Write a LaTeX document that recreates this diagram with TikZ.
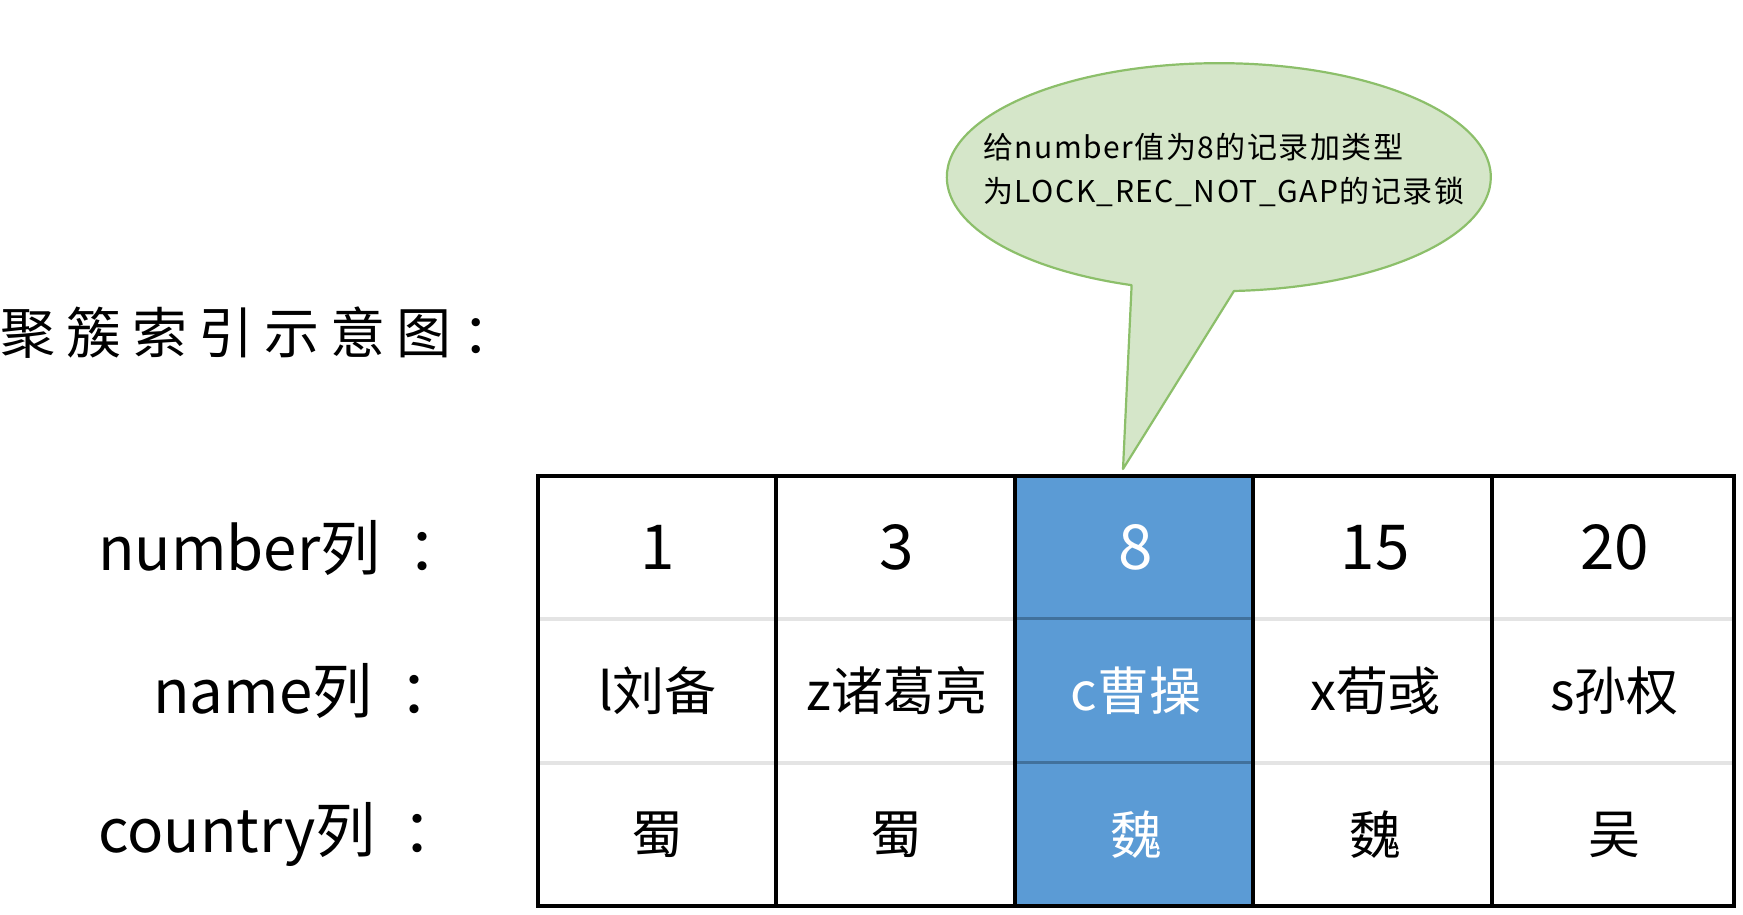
\documentclass[tikz,border=0pt]{standalone}
\usepackage{fontspec}
\setmainfont{Noto Sans CJK SC}
\newfontfamily\titlefont[LetterSpace=20]{Noto Sans CJK SC}
\newfontfamily\notefont[LetterSpace=5]{Noto Sans CJK SC}
\definecolor{cellblue}{HTML}{5B9BD5}
\definecolor{bluesep}{HTML}{41719C}
\definecolor{graysep}{HTML}{E4E4E4}
\definecolor{calloutfill}{HTML}{D5E6C9}
\definecolor{calloutline}{HTML}{8CBF6A}
\begin{document}
\begin{tikzpicture}[x=1pt,y=1pt,
  lbl/.style={inner sep=0, anchor=west, font=\fontsize{60}{64}\selectfont},
  num/.style={inner sep=0, font=\fontsize{62}{66}\selectfont},
  cell/.style={inner sep=0, font=\fontsize{52}{60}\selectfont},
  hl/.style={text=white},
  rowsep/.style={draw=graysep, line width=4pt},
  bluerowsep/.style={draw=bluesep, line width=3pt},
  coldiv/.style={draw=black, line width=3.5pt},
  frame/.style={draw=black, line width=4pt},
  bubble/.style={draw=calloutline, fill=calloutfill, line width=2.2pt, line join=round}]
\useasboundingbox (0,0) rectangle (1743,915);

% title
\node[inner sep=0, anchor=west, font=\titlefont\fontsize{55}{60}\selectfont] (title) at (0,582) {聚簇索引示意图：};

% row labels
\node[lbl] (lnum) at (98,367) {number列\hspace{27pt}：};
\node[lbl] (lname) at (153,224) {name列\hspace{27pt}：};
\node[lbl] (lcountry) at (98,81) {country列\hspace{27pt}：};

% table background
\fill[cellblue] (1015,9) rectangle (1253,439);
\draw[rowsep] (538,296) -- (1015,296) (1253,296) -- (1734,296);
\draw[rowsep] (538,152) -- (1015,152) (1253,152) -- (1734,152);
\draw[bluerowsep] (1015,296) -- (1253,296) (1015,152) -- (1253,152);
\foreach \x in {776,1015,1253,1492} \draw[coldiv] (\x,9) -- (\x,439);
\draw[frame] (538,9) rectangle (1734,439);

% cells
\node[num] (n1) at (657.6,367.5) {1};
\node[num] (n2) at (896.8,367.5) {3};
\node[num,hl] (n3) at (1136,367.5) {8};
\node[num] (n4) at (1375.2,367.5) {15};
\node[num] (n5) at (1614.4,367.5) {20};

\node[cell] (m1) at (657.6,224) {l刘备};
\node[cell] (m2) at (896.8,224) {z诸葛亮};
\node[cell,hl] (m3) at (1136,224) {c曹操};
\node[cell] (m4) at (1375.2,224) {x荀彧};
\node[cell] (m5) at (1614.4,224) {s孙权};

\node[cell] (k1) at (657.6,80.5) {蜀};
\node[cell] (k2) at (896.8,80.5) {蜀};
\node[cell,hl] (k3) at (1136,80.5) {魏};
\node[cell] (k4) at (1375.2,80.5) {魏};
\node[cell] (k5) at (1614.4,80.5) {吴};

% callout
\coordinate (tip) at (1123,446);
\path[bubble] (1234,624) arc[start angle=-86.8, end angle=251.3, x radius=272, y radius=114] -- (tip) -- cycle;
\node[inner sep=0, anchor=west, align=left, font=\notefont\fontsize{30}{44}\selectfont] (note) at (983,745)
  {给number值为8的记录加类型\\为LOCK\_REC\_NOT\_GAP的记录锁};
\end{tikzpicture}
\end{document}
